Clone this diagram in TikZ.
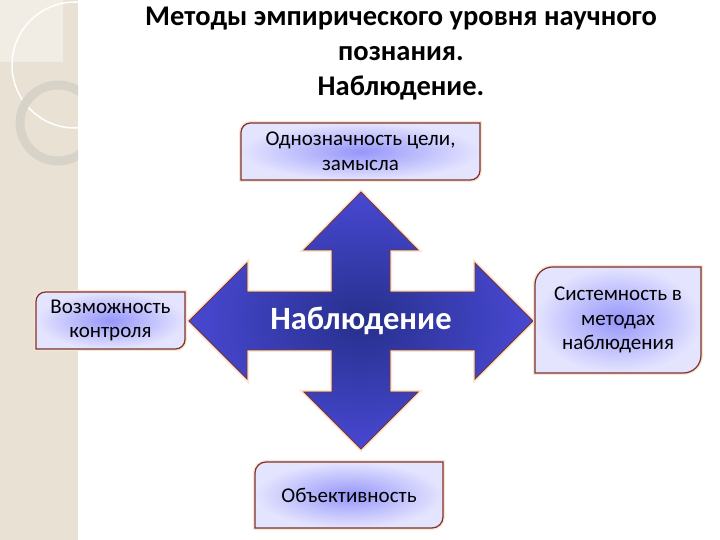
\documentclass[tikz,border=0pt]{standalone}
\usepackage{fontspec}
\setmainfont{Carlito}
\definecolor{strip}{RGB}{233,226,212}
\definecolor{stripl}{RGB}{241,237,229}
\definecolor{ringc}{RGB}{216,211,201}
\definecolor{bord}{RGB}{122,52,42}
\definecolor{glowc}{RGB}{250,228,214}
\definecolor{boxin}{RGB}{150,150,250}
\definecolor{boxout}{RGB}{228,228,255}
\definecolor{crossin}{RGB}{38,48,140}
\definecolor{crossout}{RGB}{72,72,210}
\tikzset{
  boxline/.style={draw=bord, line width=1.2pt, inner color=boxin, outer color=boxout},
  glowline/.style={draw=glowc, line width=4pt},
  boxtext/.style={align=center, font=\fontsize{21}{24.5}\selectfont, text=black},
}
\newcommand\diagbox[6]{%
  \pgfmathsetmacro\rr{0.1667*min(#4-#2,#5-#3)}%
  \draw[glowline] (#2,#3) -- (#2,#5-\rr) arc[start angle=180,end angle=90,radius=\rr] -- (#4,#5) -- (#4,#3+\rr) arc[start angle=0,end angle=-90,radius=\rr] -- cycle;
  \draw[boxline] (#2,#3) -- (#2,#5-\rr) arc[start angle=180,end angle=90,radius=\rr] -- (#4,#5) -- (#4,#3+\rr) arc[start angle=0,end angle=-90,radius=\rr] -- cycle;
  \node[boxtext] (#1) at ({(#2+#4)/2},{(#3+#5)/2}) {#6};
}
\begin{document}
\begin{tikzpicture}[x=1pt,y=1pt]
\useasboundingbox (0,0) rectangle (720,540);
\fill[white] (0,0) rectangle (720,540);
% decorative left strip
\fill[strip] (0,0) rectangle (78,540);
\fill[stripl] (0,478) rectangle (63,540);
\begin{scope}
  \clip (0,0) rectangle (78,540);
  \draw[white, line width=1.5pt] (75,475) circle[radius=63];
  \draw[ringc, line width=9pt] (58,417) circle[radius=38];
\end{scope}
% title
\node[align=center, font=\bfseries\fontsize{28.5}{35}\selectfont] (title) at (401,486)
  {Методы эмпирического уровня научного\\познания.\\Наблюдение.};
% cross arrow
\draw[glowline]
  (361,348) -- (418,290) -- (390,290) -- (390,248) -- (475,248) -- (475,277)
  -- (533,219) -- (475,161) -- (475,190) -- (390,190) -- (390,148) -- (418,148)
  -- (361,91) -- (304,148) -- (332,148) -- (332,190) -- (247,190) -- (247,161)
  -- (189,219) -- (247,277) -- (247,248) -- (332,248) -- (332,290) -- (304,290) -- cycle;
\draw[draw=bord, line width=0.8pt, inner color=crossin, outer color=crossout]
  (361,348) -- (418,290) -- (390,290) -- (390,248) -- (475,248) -- (475,277)
  -- (533,219) -- (475,161) -- (475,190) -- (390,190) -- (390,148) -- (418,148)
  -- (361,91) -- (304,148) -- (332,148) -- (332,190) -- (247,190) -- (247,161)
  -- (189,219) -- (247,277) -- (247,248) -- (332,248) -- (332,290) -- (304,290) -- cycle;
\node[text=white, font=\bfseries\fontsize{32.5}{38}\selectfont] (center) at (361,219) {Наблюдение};
% boxes
\diagbox{top}{241}{360}{480}{417}{Однозначность цели,\\замысла}
\diagbox{left}{36}{191}{185}{248}{Возможность\\контроля}
\diagbox{right}{535}{167}{701}{273}{Системность в\\методах\\наблюдения}
\diagbox{bottom}{255}{12}{443}{78}{Объективность}
\end{tikzpicture}
\end{document}
